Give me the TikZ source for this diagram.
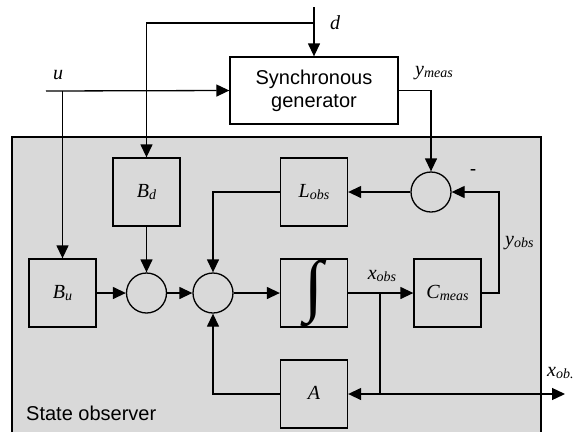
\documentclass[tikz,border=0pt]{standalone}
\usepackage{fontspec}
\setmainfont{Liberation Serif}
\newfontfamily\lsans{Liberation Sans}
\usetikzlibrary{arrows.meta}
\definecolor{obsgray}{RGB}{217,217,217}
\newcommand{\mylbl}[2]{{\fontsize{20}{20}\selectfont\itshape #1\raisebox{-0.25ex}{\fontsize{14}{14}\selectfont #2}}}
\tikzset{
  blk/.style={draw, line width=1.3pt, minimum width=67pt, minimum height=68pt, inner sep=0pt},
  sumc/.style={draw, circle, minimum size=40pt, inner sep=0pt, line width=1.3pt},
  conn/.style={line width=1.3pt, -{Triangle[length=13pt,width=12pt]}},
  plain/.style={line width=1.3pt},
  lab/.style={inner sep=0pt}
}
\begin{document}
\begin{tikzpicture}[x=1pt,y=-1pt]
\useasboundingbox (0,0) rectangle (573,432);
% observer region
\fill[obsgray] (12,432) rectangle (541,137);
\draw[plain] (12,432) -- (12,137) -- (541,137) -- (541,432);
\node[lab, anchor=west, font=\lsans\fontsize{20}{20}\selectfont] (obslbl) at (26,413) {State observer};
% generator
\node[draw, line width=1.3pt, fill=white, minimum width=168pt, minimum height=67pt, inner sep=0pt, align=center, font=\lsans\fontsize{20}{23}\selectfont] (gen) at (314,90.5)
  {Synchronous\\ generator};
% blocks
\node[blk] (Bd) at (146.5,192) {\mylbl{B}{d}};
\node[blk] (Bu) at (62.5,293) {\mylbl{B}{u}};
\node[blk] (int) at (314,293) {\resizebox{!}{49pt}{∫}};
\node[blk] (Lobs) at (314,192) {\mylbl{L}{obs}};
\node[blk] (A) at (314,394) {\mylbl{A}{}};
\node[blk] (Cm) at (447.5,293) {\mylbl{C}{meas}};
% summing junctions
\node[sumc] (s1) at (146.5,293) {};
\node[sumc] (s2) at (213,293) {};
\node[sumc] (s3) at (431,192) {};
% coordinates
\coordinate (dtop) at (314,7);
\coordinate (dbr) at (314,23);
\coordinate (ustart) at (46,91);
\coordinate (ubr) at (62.5,91);
\coordinate (jn) at (380,293);
\coordinate (jd) at (380,394);
\coordinate (xout) at (565,394);
\coordinate (yr) at (499,293);
% connectors
\draw[conn] (dtop) -- (gen.north);
\draw[conn] (dbr) -| (Bd.north);
\draw[conn] (ustart) -- (gen.west);
\draw[conn] (ubr) -- (Bu.north);
\draw[conn] (gen.east) -| (s3.north);
\draw[conn] (s3.west) -- (Lobs.east);
\draw[conn] (Lobs.west) -| (s2.north);
\draw[conn] (Bd.south) -- (s1.north);
\draw[conn] (Bu.east) -- (s1.west);
\draw[conn] (s1.east) -- (s2.west);
\draw[conn] (s2.east) -- (int.west);
\draw[conn] (int.east) -- (Cm.west);
\draw[plain] (jn) -- (jd);
\draw[conn] (jd) -- (A.east);
\draw[conn] (jd) -- (xout);
\draw[conn] (Cm.east) -- (yr) |- (s3.east);
\draw[conn] (A.west) -| (s2.south);
% labels
\node[lab] (dl) at (335,24) {\mylbl{d}{}};
\node[lab] (ul) at (58,76) {\mylbl{u}{}};
\node[lab, anchor=west] (yml) at (415,73) {\mylbl{y}{meas}};
\node[lab] (xol) at (382,276) {\mylbl{x}{obs}};
\node[lab] (minus) at (473,172) {\fontsize{18}{18}\selectfont\bfseries -};
\node[lab, anchor=west] (yol) at (505,243) {\mylbl{y}{obs}};
\node[lab, anchor=west] (xob) at (547,373) {\mylbl{x}{ob.}};
\end{tikzpicture}
\end{document}
